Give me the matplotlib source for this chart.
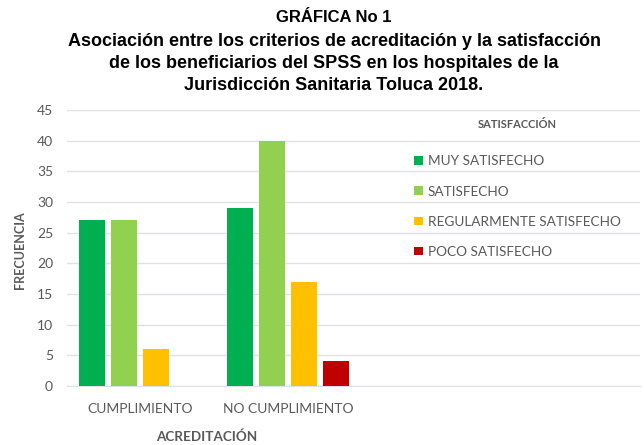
import matplotlib
matplotlib.use("Agg")
import matplotlib.pyplot as plt
import numpy as np
from matplotlib.patches import Patch

categories = ["CUMPLIMIENTO", "NO CUMPLIMIENTO"]
series_names = ["MUY SATISFECHO", "SATISFECHO", "REGULARMENTE SATISFECHO", "POCO SATISFECHO"]
muy_satisfecho = [27, 29]
satisfecho = [27, 40]
regular = [6, 17]
poco = [0, 4]
colors = ["#00b050", "#92d050", "#ffc000", "#c00000"]
yticks = [0, 5, 10, 15, 20, 25, 30, 35, 40, 45]

title_line1 = "GRÁFICA No 1"
title_rest = ["Asociación entre los criterios de acreditación y la satisfacción",
              "de los beneficiarios del SPSS en los hospitales de la",
              "Jurisdicción Sanitaria Toluca 2018."]

fig = plt.figure(figsize=(6.44, 4.45), dpi=100)
ax = fig.add_axes([67/644, 1-386/445, (640-67)/644, (386-110)/445])

gray = "#595959"
tick_font = "Lato"
x = np.arange(len(categories))
step = 0.216
width = 0.176
data = [muy_satisfecho, satisfecho, regular, poco]
for i, (vals, c) in enumerate(zip(data, colors)):
    ax.bar(x + (i - 1.5) * step, vals, width, color=c, zorder=3)

ax.set_xlim(-0.493, 3.378)
ax.set_ylim(0, 45)
ax.set_yticks(yticks)
ax.set_xticks(x)
ax.set_xticklabels(categories)
ax.yaxis.grid(True, color="#dde0e6", linewidth=1.0, zorder=0)
ax.set_axisbelow(True)
for s in ["top", "right", "left"]:
    ax.spines[s].set_visible(False)
ax.spines["bottom"].set_color("#dde0e6")
ax.tick_params(axis="both", length=0, colors=gray, labelsize=10)
ax.tick_params(axis="x", pad=12)
ax.tick_params(axis="y", pad=10)
for lab in ax.get_xticklabels() + ax.get_yticklabels():
    lab.set_fontfamily(tick_font)

fig.text(20/644, 1-250/445, "FRECUENCIA", rotation=90, ha="center", va="center",
         fontsize=9, fontweight="bold", color=gray, family=tick_font)
fig.text(207/644, 1-437/445, "ACREDITACIÓN", ha="center", va="center",
         fontsize=9.7, fontweight="bold", color=gray, family=tick_font)

fig.text(334/644, 1-18/445, title_line1, ha="center", va="center", fontsize=12,
         fontweight="bold", family="Liberation Sans", color="black")
for k, (line, yy) in enumerate(zip(title_rest, [42, 63, 85])):
    fig.text(334/644, 1-yy/445, line, ha="center", va="center", fontsize=13,
             fontweight="bold", family="Liberation Sans", color="black")

handles = [Patch(facecolor=c, edgecolor="none") for c in colors]
leg = fig.legend(handles, series_names, loc="upper left", bbox_to_anchor=(402/644, 1-107/445),
                 frameon=False, title="SATISFACCIÓN", alignment="center",
                 prop={"family": tick_font, "size": 9.85}, handlelength=0.6, handleheight=0.6,
                 handletextpad=0.4, labelspacing=1.33)
leg.get_title().set_fontfamily(tick_font)
leg.get_title().set_fontweight("bold")
leg.get_title().set_fontsize(8)
leg.get_title().set_color(gray)
leg._legend_box.sep = 18
for t in leg.get_texts():
    t.set_color(gray)

fig.savefig("out.png", dpi=100)
